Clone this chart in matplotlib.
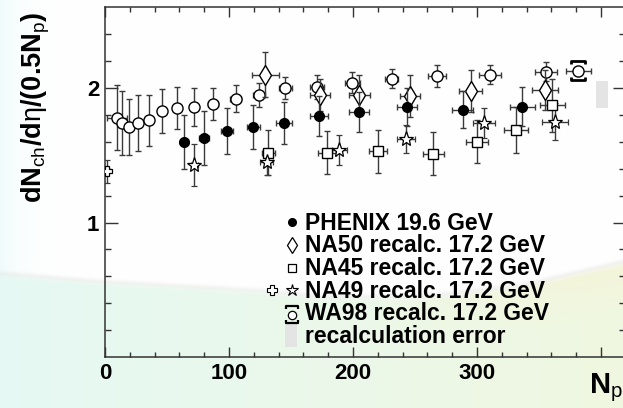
import numpy as np
import matplotlib
matplotlib.use("Agg")
import matplotlib.pyplot as plt
from matplotlib.patches import Rectangle
from matplotlib.lines import Line2D

plt.rcParams["font.family"] = ["Liberation Sans", "DejaVu Sans"]
plt.rcParams["mathtext.fontset"] = "custom"
plt.rcParams["mathtext.rm"] = "Liberation Sans"
plt.rcParams["mathtext.it"] = "Liberation Sans:italic"
plt.rcParams["mathtext.bf"] = "Liberation Sans:bold"

# ---- data: dNch/deta per participant pair vs Npart ----
phenix_np = [63.7, 79.8, 98.6, 119.6, 144.4, 172.6, 204.8, 243.3, 288.5, 336.5]
phenix_y = [1.60, 1.63, 1.68, 1.71, 1.74, 1.79, 1.82, 1.86, 1.84, 1.86]
phenix_yerr = [0.20, 0.20, 0.17, 0.16, 0.155, 0.15, 0.15, 0.14, 0.135, 0.145]
phenix_xerr = [3.5, 4.0, 4.7, 5.4, 6.4, 7.4, 8.0, 8.0, 8.7, 10.0]

na50_np = [129.3, 173.4, 205.1, 246.0, 294.9, 354.8]
na50_y = [2.10, 1.95, 1.95, 1.94, 1.98, 1.985]
na50_yerr = [0.17, 0.12, 0.15, 0.155, 0.155, 0.15]
na50_xerr = [11.0, 8.0, 8.6, 8.3, 9.4, 10.7]

na45_np = [131.7, 179.3, 220.4, 264.8, 300.2, 331.5, 360.7]
na45_y = [1.52, 1.52, 1.53, 1.51, 1.60, 1.69, 1.87]
na45_yerr = [0.17, 0.16, 0.16, 0.16, 0.16, 0.17, 0.20]
na45_xerr = [5.4, 7.4, 7.2, 8.3, 8.7, 9.4, 10.0]

na49_np = [72.0, 130.4, 189.0, 242.7, 305.6, 362.9]
na49_y = [1.43, 1.45, 1.54, 1.62, 1.74, 1.75]
na49_yerr = [0.155, 0.10, 0.11, 0.105, 0.11, 0.135]
na49_xerr = [3.0, 5.0, 6.0, 7.4, 9.0, 10.7]

na49_pp_np = [1.9]
na49_pp_y = [1.38]
na49_pp_yerr = [0.085]

wa98_np = [9.4, 13.7, 19.6, 26.4, 35.7, 46.0, 57.8, 71.8, 86.9, 105.4,
           124.4, 145.4, 171.0, 199.4, 231.2, 268.0, 310.5, 355.6, 381.7]
wa98_y = [1.78, 1.74, 1.71, 1.74, 1.76, 1.83, 1.85, 1.86, 1.88, 1.92,
          1.95, 2.00, 2.01, 2.04, 2.07, 2.09, 2.10, 2.12, 2.13]
wa98_yerr = [0.24, 0.235, 0.21, 0.205, 0.19, 0.165, 0.155, 0.14, 0.12, 0.10,
             0.09, 0.08, 0.09, 0.08, 0.07, 0.08, 0.07, 0.07, 0.0]
wa98_xerr = [8.0, 2.0, 2.0, 2.0, 2.5, 3.0, 3.0, 3.5, 4.0, 4.5,
             5.0, 5.4, 6.0, 6.0, 5.4, 7.4, 8.5, 9.0, 10.0]
wa98_sys_np = 381.7
wa98_sys_lo, wa98_sys_hi = 2.06, 2.20

recalc_np = (396.0, 406.0)
recalc_y = (1.855, 2.05)

legend_labels = ["PHENIX 19.6 GeV", "NA50 recalc. 17.2 GeV", "NA45 recalc. 17.2 GeV",
                 "NA49 recalc. 17.2 GeV", "WA98 recalc. 17.2 GeV", "recalculation error"]

W, H = 623, 408
fig = plt.figure(figsize=(W / 100, H / 100), dpi=100)


def fx(px):
    return px / W


def fy(py):
    return 1 - py / H


# ---- slide background ----
bg = fig.add_axes([0, 0, 1, 1], zorder=-10)
bg.set_axis_off()
xx, yy = np.meshgrid(np.arange(W), np.arange(H))
img = np.ones((H, W, 3))
# faint cyan tint on the left edge
left = np.exp(-xx / 20.0)[..., None]
img = img * (1 - 0.5 * left) + np.array([0.88, 0.97, 0.97]) * 0.5 * left
# swoosh boundary
bx = [0, 100, 260, 320, 420, 520, 623]
by = [272, 280, 289, 295, 295, 284, 260]
b = np.interp(np.arange(W), bx, by)[None, :]
t = yy - b
frac = (xx / W)[..., None]
lower = (np.array([0.90, 0.975, 0.955]) * (1 - frac) + np.array([0.94, 0.97, 0.88]) * frac)
yel = np.clip(1 - (t - 5) / 45.0, 0, 1)[..., None] * np.clip((xx - 380) / 200.0, 0, 1)[..., None]
lower = lower * (1 - 0.6 * yel) + np.array([0.97, 0.955, 0.84]) * 0.6 * yel
ramp = np.clip(t / 6.0, 0, 1)[..., None]
img = img * (1 - ramp) + lower * ramp
streak = np.exp(-((t - 1.0) / 2.8) ** 2)[..., None]
img = img * (1 - 0.28 * streak) + np.array([0.84, 0.85, 0.83]) * 0.28 * streak
bg.imshow(img, extent=[0, 1, 0, 1], aspect="auto", interpolation="bilinear")
bg.set_xlim(0, 1)
bg.set_ylim(0, 1)

# ---- main axes ----
x0, x1 = 105, 625
y0, y1 = 357, 7.3
ax = fig.add_axes([fx(x0), fy(y0), (x1 - x0) / W, (y0 - y1) / H])
ax.patch.set_alpha(0)
ax.set_xlim(0, 419.4)
ax.set_ylim(0, 2.6)

ecol = "#3a3a3a"
ekw = dict(ecolor=ecol, elinewidth=1.0, capsize=2.2, capthick=1.0, linestyle="none")

ax.errorbar(wa98_np, wa98_y, yerr=wa98_yerr, xerr=wa98_xerr, fmt="o", ms=8,
            mfc="white", mec="black", mew=1.0, zorder=3, **ekw)
ax.errorbar(na45_np, na45_y, yerr=na45_yerr, xerr=na45_xerr, fmt="s", ms=7.5,
            mfc="white", mec="black", mew=1.0, zorder=3, **ekw)
ax.errorbar(na49_np, na49_y, yerr=na49_yerr, xerr=na49_xerr, fmt="*", ms=11,
            mfc="white", mec="black", mew=0.9, zorder=3, **ekw)
ax.errorbar(na49_pp_np, na49_pp_y, yerr=na49_pp_yerr, fmt="P", ms=7.5,
            mfc="white", mec="black", mew=0.9, zorder=3, **ekw)
ax.errorbar(na50_np, na50_y, yerr=na50_yerr, xerr=na50_xerr, fmt="d", ms=10,
            mfc="white", mec="black", mew=1.0, zorder=4, **ekw)
ax.errorbar(phenix_np, phenix_y, yerr=phenix_yerr, xerr=phenix_xerr, fmt="o", ms=7,
            mfc="black", mec="black", zorder=5, **ekw)

# WA98 systematic bracket on the most central point
bw, bh = 5.6, 0.025
for yb, s in ((wa98_sys_hi, -1), (wa98_sys_lo, 1)):
    ax.plot([wa98_sys_np - bw, wa98_sys_np - bw, wa98_sys_np + bw, wa98_sys_np + bw],
            [yb + s * bh, yb, yb, yb + s * bh], color="black", lw=2.0,
            solid_capstyle="butt", zorder=6)

# recalculation error band
ax.add_patch(Rectangle((recalc_np[0], recalc_y[0]), recalc_np[1] - recalc_np[0],
                       recalc_y[1] - recalc_y[0], facecolor="#e4e4e4",
                       edgecolor="none", zorder=2))

# ---- axes styling ----
for sp in ax.spines.values():
    sp.set_color("#333333")
    sp.set_linewidth(1.1)
ax.set_xticks([0, 100, 200, 300, 400])
ax.set_xticklabels(["0", "100", "200", "300", ""])
ax.set_xticks(np.arange(0, 420, 20), minor=True)
ax.set_yticks([1, 2])
ax.set_yticklabels(["1", "2"])
ax.set_yticks(np.arange(0.2, 2.6, 0.2), minor=True)
ax.tick_params(which="both", direction="in", top=True, right=True,
               color="#333333", width=1.0)
ax.tick_params(axis="x", which="major", length=7.5, pad=4, labelsize=16)
ax.tick_params(axis="x", which="minor", length=3.5)
ax.tick_params(axis="y", which="major", length=9, pad=4, labelsize=16)
ax.tick_params(axis="y", which="minor", length=4.5)
for lab in ax.get_xticklabels() + ax.get_yticklabels():
    lab.set_fontweight("bold")

# axis titles
fig.text(fx(36), fy(12), r"dN$_{\rm ch}$/d$\mathrm{\eta}$/(0.5N$_{\rm p}$)", rotation=90,
         ha="center", va="top", fontsize=19.5, fontweight="bold")
fig.text(fx(589), fy(393.5), r"N$_{\rm p}$", ha="left", va="baseline",
         fontsize=21, fontweight="bold")

# ---- legend ----
rows = [229.5 + 22.7 * i for i in range(6)]
mid = [r - 7.3 for r in rows]
mx = 291.7
for lab, r in zip(legend_labels, rows):
    fig.text(fx(305), fy(r), lab, ha="left", va="baseline", fontsize=16.5,
             fontweight="bold")


def leg_marker(px, py, **kw):
    fig.add_artist(Line2D([fx(px)], [fy(py)], linestyle="none", **kw))


leg_marker(mx, mid[0], marker="o", ms=5.5, mfc="black", mec="black")
leg_marker(mx, mid[1], marker="d", ms=8.5, mfc="white", mec="black", mew=0.9)
leg_marker(mx, mid[2], marker="s", ms=6, mfc="white", mec="black", mew=0.9)
leg_marker(271.7, mid[3], marker="P", ms=6.5, mfc="white", mec="black", mew=0.8)
leg_marker(mx, mid[3], marker="*", ms=9, mfc="white", mec="black", mew=0.8)
leg_marker(mx, mid[4] + 1.5, marker="o", ms=6, mfc="white", mec="black", mew=0.9)
for yb, s in ((306, 1), (323.3, -1)):
    fig.add_artist(Line2D([fx(285.5), fx(285.5), fx(298), fx(298)],
                          [fy(yb + s * 3), fy(yb), fy(yb), fy(yb + s * 3)],
                          color="black", lw=1.6, solid_capstyle="butt"))
fig.add_artist(Rectangle((fx(285), fy(347)), (296.7 - 285) / W, 24 / H,
                         facecolor="#e4e4e4", edgecolor="none",
                         transform=fig.transFigure))

fig.savefig("out.png", dpi=100)
